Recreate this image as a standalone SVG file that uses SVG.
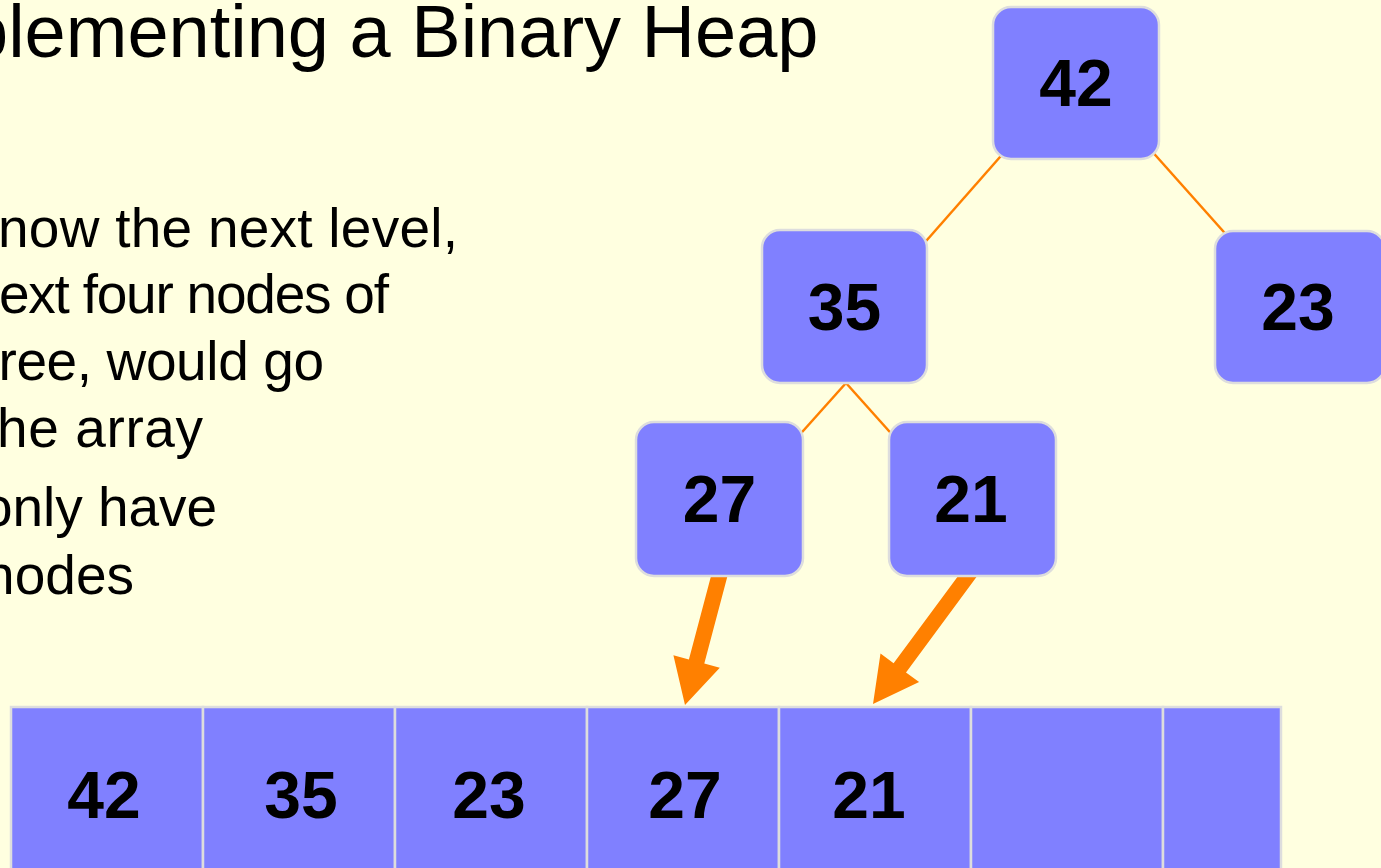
<svg xmlns="http://www.w3.org/2000/svg" width="1381" height="868" viewBox="0 0 1381 868">
<style>
.bg{fill:#FFFFE0}
.node rect{fill:#8080FF;stroke:#DDDDDD;stroke-width:2.5}
.num{font-family:"Liberation Sans",Arial,sans-serif;font-weight:bold;font-size:66px;fill:#000;text-anchor:middle}
.title{font-family:"Liberation Sans",Arial,sans-serif;font-size:74px;fill:#000}
.body{font-family:"Liberation Sans",Arial,sans-serif;font-size:55px;fill:#000}
.edge{stroke:#FF8000;stroke-width:2.5;fill:none}
.arrow{fill:#FF8000;stroke:none}
.cell{fill:#8080FF;stroke:#DDDDDD;stroke-width:2.5}
</style>
<rect class="bg" x="0" y="0" width="1381" height="868"/>
<text class="title" x="-33" y="57">plementing a Binary Heap</text>
<g id="text">
<text class="body" x="-2" y="247" textLength="460" lengthAdjust="spacing">now the next level,</text>
<text class="body" x="-1" y="313" textLength="390" lengthAdjust="spacing">ext four nodes of</text>
<text class="body" x="-1.5" y="380" textLength="325.5" lengthAdjust="spacing">ree, would go</text>
<text class="body" x="-3" y="447" textLength="206" lengthAdjust="spacing">he array</text>
<text class="body" x="-18" y="526" textLength="235" lengthAdjust="spacing">only have</text>
<text class="body" x="-16" y="594" textLength="150" lengthAdjust="spacing">nodes</text>
</g>
<g id="connectors">
<line class="edge" x1="1006.6" y1="149.5" x2="920.4" y2="247.5"/>
<line class="edge" x1="1149" y1="148" x2="1231" y2="240"/>
<line class="edge" x1="846" y1="383" x2="795" y2="440"/>
<line class="edge" x1="846" y1="383" x2="897" y2="440"/>
<polygon class="arrow" points="731.2,562.1 715.8,557.9 688.9,659.4 673.4,655.3 685,705 719.8,667.7 704.3,663.6"/>
<polygon class="arrow" points="985.7,564.6 973.3,555.4 893.6,663.2 880.5,653.5 873,704 919.1,682.1 906.0,672.4"/>
</g>
<g id="node-42" class="node"><rect x="993" y="7" width="166" height="152" rx="18"/><text class="num" x="1076" y="106">42</text></g>
<g id="node-35" class="node"><rect x="762" y="230" width="165" height="153" rx="18"/><text class="num" x="844.5" y="330">35</text></g>
<g id="node-23" class="node"><rect x="1215" y="231" width="170" height="152" rx="18"/><text class="num" x="1298" y="330">23</text></g>
<g id="node-27" class="node"><rect x="636" y="422" width="167" height="154" rx="18"/><text class="num" x="719.5" y="522">27</text></g>
<g id="node-21" class="node"><rect x="889" y="422" width="167" height="154" rx="18"/><text class="num" x="971" y="522">21</text></g>
<g id="array">
<rect class="cell" x="11" y="707" width="192" height="200"/>
<rect class="cell" x="203" y="707" width="192" height="200"/>
<rect class="cell" x="395" y="707" width="192" height="200"/>
<rect class="cell" x="587" y="707" width="192" height="200"/>
<rect class="cell" x="779" y="707" width="192" height="200"/>
<rect class="cell" x="971" y="707" width="192" height="200"/>
<rect class="cell" x="1163" y="707" width="118" height="200"/>
<text class="num" x="104" y="818">42</text>
<text class="num" x="301" y="818">35</text>
<text class="num" x="489" y="818">23</text>
<text class="num" x="685" y="818">27</text>
<text class="num" x="869" y="818">21</text>
</g>
</svg>
